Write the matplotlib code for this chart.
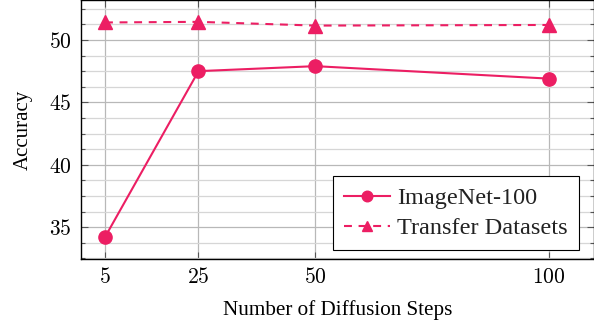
import matplotlib
matplotlib.use("Agg")
import matplotlib.pyplot as plt
from matplotlib.ticker import MultipleLocator, FixedLocator

# data
steps = [5, 25, 50, 100]
imagenet_acc = [34.2, 47.5, 47.9, 46.9]
transfer_acc = [51.4, 51.45, 51.15, 51.2]
x_ticks = [5, 25, 50, 100]
y_ticks = [35, 40, 45, 50]

pink = '#ec1e63'

plt.rcParams['mathtext.fontset'] = 'cm'

fig = plt.figure(figsize=(5.94, 3.27), dpi=100)
ax = fig.add_axes([81 / 594, 68 / 327, 1 - 81 / 594, 259 / 327])

ax.plot(steps, imagenet_acc, color=pink, lw=1.5, marker='o', ms=9.5,
        label='ImageNet-100', zorder=3)
ax.plot(steps, transfer_acc, color=pink, lw=1.5, marker='^', ms=9.5,
        dashes=(3.8, 3.2), label='Transfer Datasets', zorder=3)

ax.set_xlim(-0.13, 109.6)
ax.set_ylim(32.45, 53.2)
ax.xaxis.set_major_locator(FixedLocator(x_ticks))
ax.yaxis.set_major_locator(FixedLocator(y_ticks))
ax.yaxis.set_minor_locator(MultipleLocator(1.25))
ax.set_xticklabels(['$%d$' % t for t in x_ticks])
ax.set_yticklabels(['$%d$' % t for t in y_ticks])

ax.grid(True, which='major', color='#b8b8b8', lw=0.9)
ax.grid(True, which='minor', axis='y', color='#d6d6d6', lw=0.9)
ax.set_axisbelow(True)

ax.tick_params(which='both', direction='in', top=True, right=True,
               labelsize=15.5, width=0.8, color='#555555')
ax.tick_params(which='major', length=5)
ax.tick_params(which='minor', length=3)
ax.tick_params(axis='x', pad=6)
ax.tick_params(axis='y', pad=7)
for s in ax.spines.values():
    s.set_linewidth(1.0)

serif = ['Liberation Serif', 'DejaVu Serif']
ax.set_xlabel('Number of Diffusion Steps', family=serif, fontsize=15.2, labelpad=9)
ax.set_ylabel('Accuracy', family=serif, fontsize=15, labelpad=11)

leg = ax.legend(loc='lower right', bbox_to_anchor=(0.9708, 0.0347),
                prop={'family': serif, 'size': 17.5},
                fancybox=False, edgecolor='black', framealpha=1,
                borderaxespad=0, handlelength=1.9, handletextpad=0.3,
                borderpad=0.45, labelspacing=0.32, markerscale=0.8)
leg.get_frame().set_linewidth(0.8)
for t in leg.get_texts():
    t.set_color('#222222')

fig.savefig('out.png', dpi=100)
